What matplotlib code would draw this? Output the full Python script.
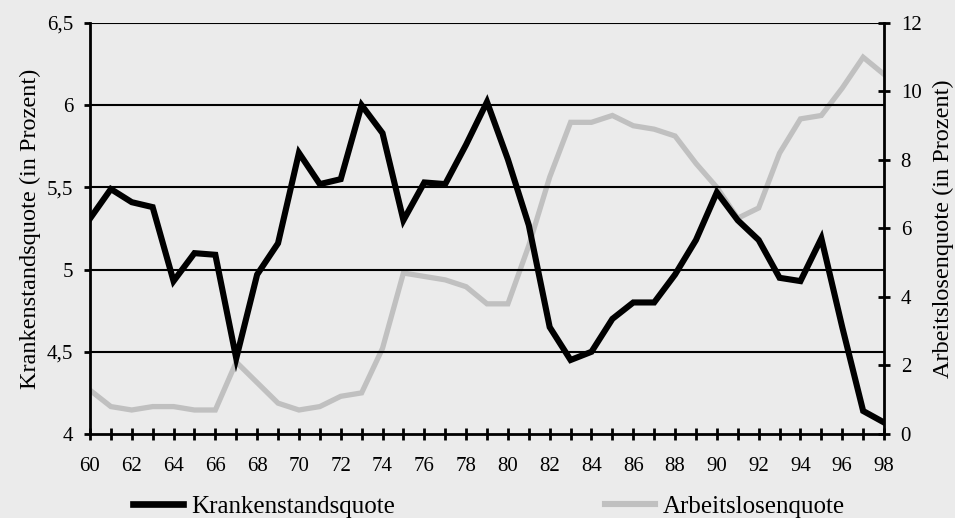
import matplotlib
matplotlib.use("Agg")
import matplotlib.pyplot as plt
from matplotlib.ticker import MultipleLocator, FuncFormatter
from matplotlib.lines import Line2D

# data (years 1960-1998)
years = list(range(60, 99))
kranken = [5.31, 5.49, 5.41, 5.38, 4.93, 5.10, 5.09, 4.46, 4.97, 5.16,
           5.71, 5.52, 5.55, 6.00, 5.83, 5.30, 5.53, 5.52, 5.76, 6.02,
           5.67, 5.27, 4.65, 4.45, 4.50, 4.70, 4.80, 4.80, 4.97, 5.18,
           5.47, 5.30, 5.18, 4.95, 4.93, 5.19, 4.65, 4.14, 4.07]
arbeitslos = [1.28, 0.80, 0.70, 0.80, 0.80, 0.70, 0.70, 2.10, 1.50, 0.90,
              0.70, 0.80, 1.10, 1.20, 2.50, 4.70, 4.60, 4.50, 4.30, 3.80,
              3.80, 5.50, 7.50, 9.10, 9.10, 9.30, 9.00, 8.90, 8.70, 7.90,
              7.20, 6.30, 6.60, 8.20, 9.20, 9.30, 10.10, 11.00, 10.50]
left_ticks = [4, 4.5, 5, 5.5, 6, 6.5]
right_ticks = [0, 2, 4, 6, 8, 10, 12]

bg = "#ebebeb"
grey = "#c0c0c0"
plt.rcParams["font.family"] = ["Liberation Serif", "DejaVu Serif"]
fs = 15

fig = plt.figure(figsize=(9.55, 5.18), dpi=100, facecolor=bg)
ax = fig.add_axes([0.0942, 0.1622, 0.9257 - 0.0942, 0.9556 - 0.1622])
ax2 = ax.twinx()

# grid lines for the left axis
for v in left_ticks[1:]:
    ax.axhline(v, color="black", lw=1.5, zorder=1)

ax2.plot(years, arbeitslos, color=grey, lw=3.8, solid_joinstyle="miter", zorder=2)
ax.plot(years, kranken, color="black", lw=4.4, solid_joinstyle="miter", zorder=3)
ax.set_zorder(ax2.get_zorder() + 1)
ax.patch.set_visible(False)
ax2.set_facecolor(bg)

ax.set_xlim(60, 98)
ax.set_ylim(4, 6.5)
ax2.set_ylim(0, 12)
ax.set_yticks(left_ticks)
ax.yaxis.set_major_formatter(FuncFormatter(lambda v, p: ("%g" % v).replace(".", ",")))
ax2.set_yticks(right_ticks)
ax.xaxis.set_major_locator(MultipleLocator(2))
ax.xaxis.set_minor_locator(MultipleLocator(1))

for a in (ax, ax2):
    for s in a.spines.values():
        s.set_visible(False)
ax.spines["left"].set_visible(True)
ax.spines["bottom"].set_visible(True)
ax2.spines["right"].set_visible(True)
for s in (ax.spines["left"], ax.spines["bottom"], ax2.spines["right"]):
    s.set_linewidth(2)
    s.set_color("black")

ax.tick_params(axis="x", which="both", direction="inout", length=9, width=2, pad=12,
               labelsize=fs)
ax.tick_params(axis="y", direction="out", length=4.5, width=2, labelsize=fs, pad=7.5)
ax2.tick_params(axis="y", direction="inout", length=9, width=2, labelsize=fs, pad=7.5)

ax.set_ylabel("Krankenstandsquote (in Prozent)", fontsize=17.5, labelpad=4)
ax2.set_ylabel("Arbeitslosenquote (in Prozent)", fontsize=17.5, labelpad=8)

handles = [Line2D([], [], color="black", lw=4.8),
           Line2D([], [], color=grey, lw=4.4)]
fig.legend(handles, ["Krankenstandsquote", "Arbeitslosenquote"], loc="center",
           bbox_to_anchor=(0.512, 0.022), ncol=2, frameon=False, fontsize=18,
           handlelength=2.0, handletextpad=0.3, columnspacing=8.4)

fig.savefig("out.png", dpi=100, facecolor=bg)
